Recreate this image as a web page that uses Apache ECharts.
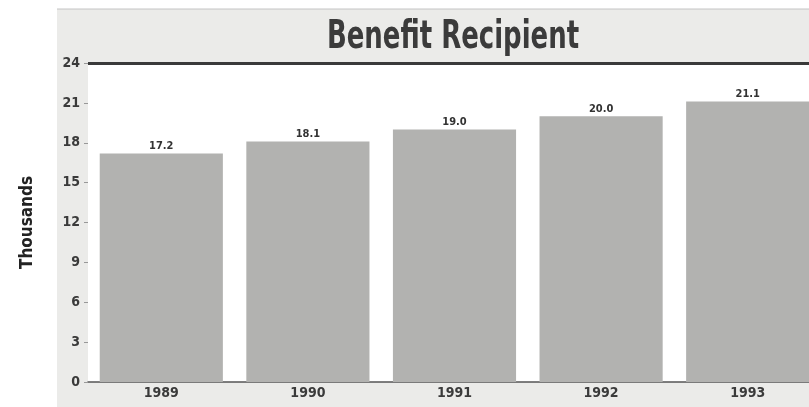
<!DOCTYPE html>
<html><head><meta charset="utf-8">
<script src="https://cdn.jsdelivr.net/npm/echarts@6/dist/echarts.min.js"></script>
<style>html,body{margin:0;padding:0;background:#fff;overflow:hidden}#c{width:821px;height:407px}</style>
</head><body><div id="c"></div>
<script>
const title = 'Benefit Recipient';
const yAxisName = 'Thousands';
const categories = ['1989', '1990', '1991', '1992', '1993'];
const values = [17.2, 18.1, 19.0, 20.0, 21.1];
const valueLabels = ['17.2', '18.1', '19.0', '20.0', '21.1'];
const yTicks = [0, 3, 6, 9, 12, 15, 18, 21, 24];

const FONT = '"DejaVu Sans Condensed", "Liberation Sans", sans-serif';
const chart = echarts.init(document.getElementById('c'), null, {renderer: 'canvas'});
chart.setOption({
  backgroundColor: '#ffffff',
  animation: false,
  graphic: [
    {type: 'rect', z: -10, shape: {x: 57, y: 9, width: 770, height: 400}, style: {fill: '#ebebe9'}},
    {type: 'line', z: -9, shape: {x1: 57, y1: 9, x2: 821, y2: 9}, style: {stroke: '#c4c4c4', lineWidth: 1}},
    {type: 'text', z: 10, x: 453, y: 38, scaleX: 0.74, scaleY: 1,
      style: {text: title, fontFamily: FONT, fontWeight: 'bold', fontSize: 39, fill: '#3b3b3b',
        textAlign: 'center', textVerticalAlign: 'middle'}}
  ],
  grid: {left: 88, top: 63, right: 0, height: 319, show: true, backgroundColor: '#ffffff', borderWidth: 0},
  xAxis: {
    type: 'category', data: categories,
    axisLine: {lineStyle: {color: '#555', width: 1.5}},
    axisTick: {show: false},
    axisLabel: {fontFamily: FONT, fontWeight: 'bold', fontSize: 14, color: '#3a3a3a', margin: 4}
  },
  yAxis: {
    type: 'value', min: 0, max: 24, interval: 3,
    name: yAxisName, nameLocation: 'middle', nameGap: 52, nameRotate: 90,
    nameTextStyle: {fontFamily: FONT, fontWeight: 'bold', fontSize: 17, color: '#222'},
    axisLine: {show: false},
    axisTick: {show: true, length: 4, lineStyle: {color: '#999'}},
    splitLine: {show: false},
    axisLabel: {fontFamily: FONT, fontWeight: 'bold', fontSize: 14, color: '#3a3a3a', margin: 8,
      formatter: v => yTicks.includes(v) ? String(v) : ''}
  },
  series: [{
    type: 'bar', data: values, barCategoryGap: '16%',
    itemStyle: {color: '#b2b2b0'},
    label: {show: true, position: 'top', distance: 2, fontFamily: FONT, fontWeight: 'bold', fontSize: 11, color: '#333',
      formatter: p => valueLabels[p.dataIndex]},
    markLine: {
      silent: true, symbol: 'none', label: {show: false},
      lineStyle: {color: '#3a3a3a', width: 3, type: 'solid'},
      data: [{yAxis: 24}]
    }
  }]
});
</script></body></html>
